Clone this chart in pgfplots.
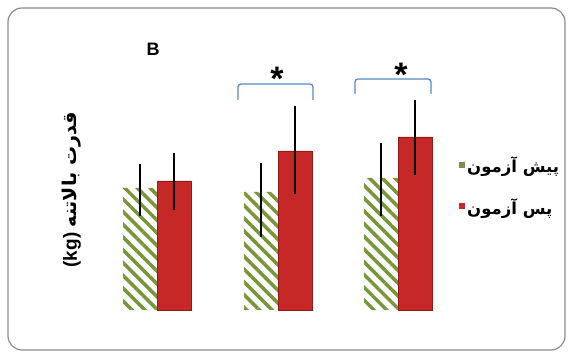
\documentclass[border=0pt]{standalone}
\usepackage{pgfplots}
\pgfplotsset{compat=1.18}
\usepackage{fontspec}
\setmainfont{Liberation Sans}
\newfontfamily\arabicfont[Script=Arabic]{DejaVu Sans}
\TeXXeTstate=1
\usetikzlibrary{patterns.meta}
\definecolor{hgreen}{RGB}{118,150,55}
\definecolor{barred}{RGB}{198,40,40}
\definecolor{barreddark}{RGB}{150,25,25}
\definecolor{brblue}{RGB}{85,135,195}
\begin{document}
\begin{tikzpicture}[x=1pt,y=1pt]
\useasboundingbox (0,0) rectangle (570,356);
\draw[rounded corners=14pt, draw={rgb,255:red,140;green,140;blue,140}, line width=1.2pt] (8,6) rectangle (565,348);
\begin{axis}[
  at={(100pt,46pt)}, anchor=south west,
  scale only axis, width=350pt, height=250pt,
  xmin=100, xmax=450, ymin=0, ymax=250,
  hide axis,
  ybar=0pt, bar width=34pt,
  clip=false,
  legend style={at={(axis cs:459,157)}, anchor=north west, draw=none, fill=none,
    font=\fontsize{16.5}{19}\selectfont\bfseries, row sep=20pt, legend cell align=left,
    inner xsep=0pt, nodes={inner xsep=2pt}},
  legend image code/.code={\draw[#1, draw=none] (0pt,-2pt) rectangle (6pt,4pt);},
  error bars/error bar style={line width=2.6pt, black},
  error bars/error mark=none,
]
\addplot[fill=white, draw=none,
  postaction={pattern={Lines[angle=-45,distance=9pt,line width=3.5pt]}, pattern color=hgreen},
  legend image code/.code={\fill[hgreen!55!gray] (0pt,-2pt) rectangle (6pt,4pt);},
  error bars/.cd, y dir=both, y explicit]
  coordinates {(157,122) += (0,24) -= (0,28)
               (278,118) += (0,29) -= (0,45)
               (398,132) += (0,35) -= (0,38)};
\addplot[fill=barred, draw=barreddark, line width=0.6pt,
  error bars/.cd, y dir=both, y explicit]
  coordinates {(157,129) += (0,28) -= (0,29)
               (278,159) += (0,45) -= (0,43)
               (398,173) += (0,37) -= (0,38)};
\addlegendentry{\arabicfont\bfseries\beginR پیش آزمون\endR}
\addlegendentry{\arabicfont\bfseries\beginR پس آزمون\endR}
\end{axis}
% y label
\node[rotate=90, font=\fontsize{19}{21}\selectfont\bfseries] at (72,166)
  {(kg) {\arabicfont\bfseries\beginR قدرت بالاتنه\endR}};
% panel letter
\node[font=\fontsize{18}{20}\selectfont\bfseries] at (153,307) {B};
% significance brackets
\draw[brblue, line width=1.3pt, rounded corners=3pt] (238,256) -- (238,272) -- (313,272) -- (313,256);
\draw[brblue, line width=1.3pt, rounded corners=3pt] (355,262) -- (355,277) -- (431,277) -- (431,262);
\node[font=\fontsize{34}{34}\selectfont\bfseries] at (277,277.5) {*};
\node[font=\fontsize{34}{34}\selectfont\bfseries] at (401,281.5) {*};
\end{tikzpicture}
\end{document}
